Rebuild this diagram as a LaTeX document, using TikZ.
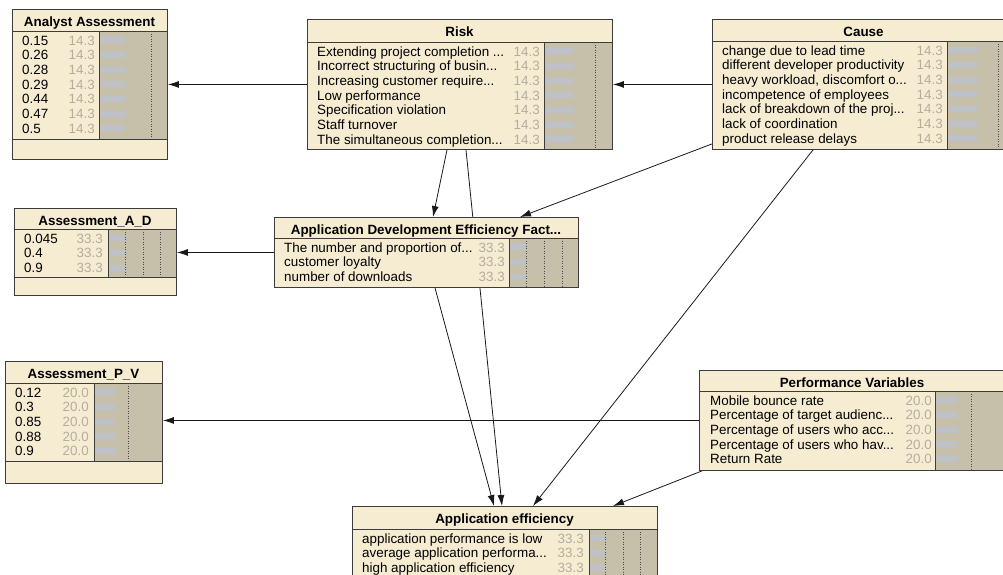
\documentclass[tikz,border=0pt]{standalone}
\usepackage{fontspec}
\setmainfont{Liberation Sans}
\usetikzlibrary{arrows.meta,backgrounds}
\definecolor{boxbg}{HTML}{F5ECD2}
\definecolor{boxline}{HTML}{3C3C3C}
\definecolor{bartan}{HTML}{C6BFA9}
\definecolor{barblue}{HTML}{BEC1C8}
\definecolor{valgray}{HTML}{B4AE9E}
\newcommand\cutdots{...}

\begin{document}
\begin{tikzpicture}[x=1pt,y=-1pt,
  font=\fontsize{13.4}{14.7}\selectfont,
  netbox/.style={draw=boxline, fill=boxbg, line width=0.9pt, inner sep=0pt, anchor=north west},
  boxtitle/.style={font=\fontsize{13.4}{14.7}\selectfont\bfseries, anchor=base, inner sep=0pt},
  statelab/.style={anchor=base west, inner sep=0pt},
  stateval/.style={anchor=base east, inner sep=0pt, text=valgray},
  barzone/.style={draw=boxline, fill=bartan, line width=0.9pt},
  barstrip/.style={fill=barblue},
  scaleline/.style={dotted, draw=black!70, line width=0.5pt},
  sepline/.style={draw=boxline, line width=0.9pt},
  link/.style={-{Latex[length=11pt,width=7pt]}, draw=black!90, line width=0.8pt}]

\useasboundingbox (0,0) rectangle (1003,574);
\clip (0,0) rectangle (1003,574);

% Analyst Assessment
\node[netbox, minimum width=155pt, minimum height=150pt] (analyst) at (12,9) {};
\node[boxtitle] (analyst-t) at (89.5,26) {Analyst Assessment};
\draw[barzone] (99,31) rectangle (167,139);
\foreach \lab [count=\i] in {0.15,0.26,0.28,0.29,0.44,0.47,0.5} {
  \fill[barstrip] (99.5,{45.2+14.67*(\i-1)-8}) rectangle (125,{45.2+14.67*(\i-1)-2});
  \node[statelab] (analyst-s\i) at (22,{45.2+14.67*(\i-1)}) {\lab};
  \node[stateval] (analyst-p\i) at (95,{45.2+14.67*(\i-1)}) {14.3};
}
\draw[scaleline] (151,31) -- (151,139);
\draw[sepline] (12,31) -- (167,31);
\draw[sepline] (12,139) -- (167,139);

% Risk
\node[netbox, minimum width=305pt, minimum height=130pt] (risk) at (307,19) {};
\node[boxtitle] (risk-t) at (459.5,36) {Risk};
\draw[barzone] (544,42) rectangle (612,149);
\foreach \lab [count=\i] in {Extending project completion \cutdots,Incorrect structuring of busin\cutdots,Increasing customer require\cutdots,Low performance,Specification violation,Staff turnover,The simultaneous completion\cutdots} {
  \fill[barstrip] (544.5,{56.2+14.67*(\i-1)-8}) rectangle (573,{56.2+14.67*(\i-1)-2});
  \node[statelab] (risk-s\i) at (317,{56.2+14.67*(\i-1)}) {\lab};
  \node[stateval] (risk-p\i) at (540,{56.2+14.67*(\i-1)}) {14.3};
}
\draw[scaleline] (595,42) -- (595,149);
\draw[sepline] (307,42) -- (612,42);

% Cause
\node[netbox, minimum width=303pt, minimum height=130pt] (cause) at (712,19) {};
\node[boxtitle] (cause-t) at (863.5,36) {Cause};
\draw[barzone] (947,41) rectangle (1015,149);
\foreach \lab [count=\i] in {change due to lead time,different developer productivity,{heavy workload, discomfort o\cutdots},incompetence of employees,lack of breakdown of the proj\cutdots,lack of coordination,product release delays} {
  \fill[barstrip] (947.5,{55.2+14.67*(\i-1)-8}) rectangle (977,{55.2+14.67*(\i-1)-2});
  \node[statelab] (cause-s\i) at (722,{55.2+14.67*(\i-1)}) {\lab};
  \node[stateval] (cause-p\i) at (943,{55.2+14.67*(\i-1)}) {14.3};
}
\draw[scaleline] (998,41) -- (998,149);
\draw[sepline] (712,41) -- (1015,41);

% Assessment_A_D
\node[netbox, minimum width=162pt, minimum height=87pt] (assessAD) at (14,208) {};
\node[boxtitle] (assessAD-t) at (95,225) {Assessment\_A\_D};
\draw[barzone] (108,229) rectangle (176,277);
\foreach \lab [count=\i] in {0.045,0.4,0.9} {
  \fill[barstrip] (108.5,{243.2+14.67*(\i-1)-8}) rectangle (125,{243.2+14.67*(\i-1)-2});
  \node[statelab] (assessAD-s\i) at (24,{243.2+14.67*(\i-1)}) {\lab};
  \node[stateval] (assessAD-p\i) at (103,{243.2+14.67*(\i-1)}) {33.3};
}
\foreach \xx in {125,143,160}
  \draw[scaleline] (\xx,229) -- (\xx,277);
\draw[sepline] (14,229) -- (176,229);
\draw[sepline] (14,277) -- (176,277);

% Application Development Efficiency Factors
\node[netbox, minimum width=304pt, minimum height=70pt] (appdev) at (274,217) {};
\node[boxtitle] (appdev-t) at (426,234) {Application Development Efficiency Fact\cutdots};
\draw[barzone] (509,238) rectangle (578,287);
\foreach \lab [count=\i] in {The number and proportion of\cutdots,customer loyalty,number of downloads} {
  \fill[barstrip] (509.5,{252.2+14.67*(\i-1)-8}) rectangle (526,{252.2+14.67*(\i-1)-2});
  \node[statelab] (appdev-s\i) at (284,{252.2+14.67*(\i-1)}) {\lab};
  \node[stateval] (appdev-p\i) at (505,{252.2+14.67*(\i-1)}) {33.3};
}
\foreach \xx in {526,544,562}
  \draw[scaleline] (\xx,238) -- (\xx,287);
\draw[sepline] (274,238) -- (578,238);

% Assessment_P_V
\node[netbox, minimum width=157pt, minimum height=122pt] (assessPV) at (5,361) {};
\node[boxtitle] (assessPV-t) at (83.5,378) {Assessment\_P\_V};
\draw[barzone] (94,383) rectangle (162,461);
\foreach \lab [count=\i] in {0.12,0.3,0.85,0.88,0.9} {
  \fill[barstrip] (94.5,{397.2+14.67*(\i-1)-8}) rectangle (115,{397.2+14.67*(\i-1)-2});
  \node[statelab] (assessPV-s\i) at (15,{397.2+14.67*(\i-1)}) {\lab};
  \node[stateval] (assessPV-p\i) at (89,{397.2+14.67*(\i-1)}) {20.0};
}
\draw[scaleline] (128,383) -- (128,461);
\draw[sepline] (5,383) -- (162,383);
\draw[sepline] (5,461) -- (162,461);

% Performance Variables
\node[netbox, minimum width=306pt, minimum height=100pt] (perf) at (699,370) {};
\node[boxtitle] (perf-t) at (852,387) {Performance Variables};
\draw[barzone] (935,391) rectangle (1005,470);
\foreach \lab [count=\i] in {Mobile bounce rate,Percentage of target audienc\cutdots,Percentage of users who acc\cutdots,Percentage of users who hav\cutdots,Return Rate} {
  \fill[barstrip] (935.5,{405.2+14.67*(\i-1)-8}) rectangle (957,{405.2+14.67*(\i-1)-2});
  \node[statelab] (perf-s\i) at (710,{405.2+14.67*(\i-1)}) {\lab};
  \node[stateval] (perf-p\i) at (932,{405.2+14.67*(\i-1)}) {20.0};
}
\draw[scaleline] (971,391) -- (971,470);
\draw[sepline] (699,391) -- (1005,391);

% Application efficiency
\node[netbox, minimum width=305pt, minimum height=80pt] (appeff) at (352,506) {};
\node[boxtitle] (appeff-t) at (504.5,523) {Application efficiency};
\draw[barzone] (589,529) rectangle (657,586);
\foreach \lab [count=\i] in {application performance is low,average application performa\cutdots,high application efficiency} {
  \fill[barstrip] (589.5,{543.2+14.67*(\i-1)-8}) rectangle (605,{543.2+14.67*(\i-1)-2});
  \node[statelab] (appeff-s\i) at (362,{543.2+14.67*(\i-1)}) {\lab};
  \node[stateval] (appeff-p\i) at (584,{543.2+14.67*(\i-1)}) {33.3};
}
\foreach \xx in {605,623,640}
  \draw[scaleline] (\xx,529) -- (\xx,586);
\draw[sepline] (352,529) -- (657,529);

% Links
\begin{scope}[on background layer]
  \draw[link] (risk.west) -- (risk.west -| analyst.east);
  \draw[link] (cause.west) -- (cause.west -| risk.east);
  \draw[link] (appdev.west) -- (appdev.west -| assessAD.east);
  \draw[link] (perf.west) -- (perf.west -| assessPV.east);
  \draw[link] ([xshift=140pt]risk.south west) -- ([xshift=159pt]appdev.north west);
  \draw[link] ([xshift=159pt]risk.south west) -- ([xshift=150pt]appeff.north west);
  \draw[link] ([xshift=161pt]appdev.south west) -- ([xshift=142pt]appeff.north west);
  \draw[link] ([yshift=6pt]cause.south west) -- ([xshift=246pt]appdev.north west);
  \draw[link] ([xshift=101pt]cause.south west) -- ([xshift=181pt]appeff.north west);
  \draw[link] ([xshift=3pt]perf.south west) -- ([xshift=261pt]appeff.north west);
\end{scope}

\end{tikzpicture}
\end{document}
